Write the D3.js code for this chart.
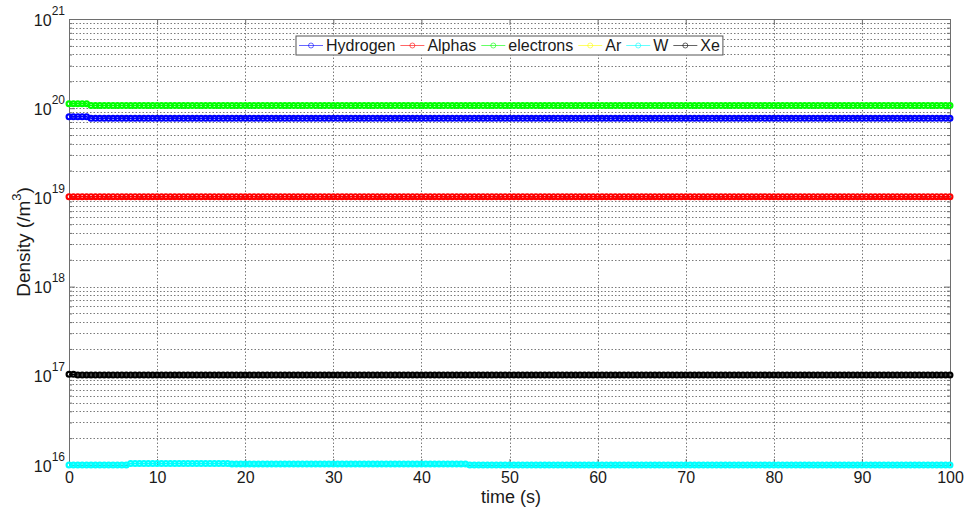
<!DOCTYPE html>
<html><head><meta charset="utf-8">
<script src="https://cdn.jsdelivr.net/npm/d3@7"></script>
<style>
html,body{margin:0;padding:0;background:#fff;}
svg{display:block;font-family:"Liberation Sans",Arial,sans-serif;}
</style></head>
<body>
<svg id="chart" width="966" height="513"></svg>
<script>
// ---- data ----
const seriesNames = ["Hydrogen","Alphas","electrons","Ar","W","Xe"];
const seriesColors = ["#0000ff","#ff0000","#00ff00","#ffff00","#00ffff","#000000"];
const times = d3.range(0, 100.25, 0.5); // 201 samples, 0..100 s
const xTicks = [0,10,20,30,40,50,60,70,80,90,100];
const yExponents = [16,17,18,19,20,21];

const Hydrogen = [
8.0e19,8.0e19,8.0e19,8.0e19,8.0e19,7.7e19,7.7e19,7.7e19,7.7e19,7.7e19,7.7e19,7.7e19,7.7e19,7.7e19,7.7e19,7.7e19,7.7e19,7.7e19,7.7e19,7.7e19,
7.7e19,7.7e19,7.7e19,7.7e19,7.7e19,7.7e19,7.7e19,7.7e19,7.7e19,7.7e19,7.7e19,7.7e19,7.7e19,7.7e19,7.7e19,7.7e19,7.7e19,7.7e19,7.7e19,7.7e19,
7.7e19,7.7e19,7.7e19,7.7e19,7.7e19,7.7e19,7.7e19,7.7e19,7.7e19,7.7e19,7.7e19,7.7e19,7.7e19,7.7e19,7.7e19,7.7e19,7.7e19,7.7e19,7.7e19,7.7e19,
7.7e19,7.7e19,7.7e19,7.7e19,7.7e19,7.7e19,7.7e19,7.7e19,7.7e19,7.7e19,7.7e19,7.7e19,7.7e19,7.7e19,7.7e19,7.7e19,7.7e19,7.7e19,7.7e19,7.7e19,
7.7e19,7.7e19,7.7e19,7.7e19,7.7e19,7.7e19,7.7e19,7.7e19,7.7e19,7.7e19,7.7e19,7.7e19,7.7e19,7.7e19,7.7e19,7.7e19,7.7e19,7.7e19,7.7e19,7.7e19,
7.7e19,7.7e19,7.7e19,7.7e19,7.7e19,7.7e19,7.7e19,7.7e19,7.7e19,7.7e19,7.7e19,7.7e19,7.7e19,7.7e19,7.7e19,7.7e19,7.7e19,7.7e19,7.7e19,7.7e19,
7.7e19,7.7e19,7.7e19,7.7e19,7.7e19,7.7e19,7.7e19,7.7e19,7.7e19,7.7e19,7.7e19,7.7e19,7.7e19,7.7e19,7.7e19,7.7e19,7.7e19,7.7e19,7.7e19,7.7e19,
7.7e19,7.7e19,7.7e19,7.7e19,7.7e19,7.7e19,7.7e19,7.7e19,7.7e19,7.7e19,7.7e19,7.7e19,7.7e19,7.7e19,7.7e19,7.7e19,7.7e19,7.7e19,7.7e19,7.7e19,
7.7e19,7.7e19,7.7e19,7.7e19,7.7e19,7.7e19,7.7e19,7.7e19,7.7e19,7.7e19,7.7e19,7.7e19,7.7e19,7.7e19,7.7e19,7.7e19,7.7e19,7.7e19,7.7e19,7.7e19,
7.7e19,7.7e19,7.7e19,7.7e19,7.7e19,7.7e19,7.7e19,7.7e19,7.7e19,7.7e19,7.7e19,7.7e19,7.7e19,7.7e19,7.7e19,7.7e19,7.7e19,7.7e19,7.7e19,7.7e19,
7.7e19];

const Alphas = [
1.02e19,1.02e19,1.02e19,1.02e19,1.02e19,1.02e19,1.02e19,1.02e19,1.02e19,1.02e19,1.02e19,1.02e19,1.02e19,1.02e19,1.02e19,1.02e19,1.02e19,1.02e19,1.02e19,1.02e19,
1.02e19,1.02e19,1.02e19,1.02e19,1.02e19,1.02e19,1.02e19,1.02e19,1.02e19,1.02e19,1.02e19,1.02e19,1.02e19,1.02e19,1.02e19,1.02e19,1.02e19,1.02e19,1.02e19,1.02e19,
1.02e19,1.02e19,1.02e19,1.02e19,1.02e19,1.02e19,1.02e19,1.02e19,1.02e19,1.02e19,1.02e19,1.02e19,1.02e19,1.02e19,1.02e19,1.02e19,1.02e19,1.02e19,1.02e19,1.02e19,
1.02e19,1.02e19,1.02e19,1.02e19,1.02e19,1.02e19,1.02e19,1.02e19,1.02e19,1.02e19,1.02e19,1.02e19,1.02e19,1.02e19,1.02e19,1.02e19,1.02e19,1.02e19,1.02e19,1.02e19,
1.02e19,1.02e19,1.02e19,1.02e19,1.02e19,1.02e19,1.02e19,1.02e19,1.02e19,1.02e19,1.02e19,1.02e19,1.02e19,1.02e19,1.02e19,1.02e19,1.02e19,1.02e19,1.02e19,1.02e19,
1.02e19,1.02e19,1.02e19,1.02e19,1.02e19,1.02e19,1.02e19,1.02e19,1.02e19,1.02e19,1.02e19,1.02e19,1.02e19,1.02e19,1.02e19,1.02e19,1.02e19,1.02e19,1.02e19,1.02e19,
1.02e19,1.02e19,1.02e19,1.02e19,1.02e19,1.02e19,1.02e19,1.02e19,1.02e19,1.02e19,1.02e19,1.02e19,1.02e19,1.02e19,1.02e19,1.02e19,1.02e19,1.02e19,1.02e19,1.02e19,
1.02e19,1.02e19,1.02e19,1.02e19,1.02e19,1.02e19,1.02e19,1.02e19,1.02e19,1.02e19,1.02e19,1.02e19,1.02e19,1.02e19,1.02e19,1.02e19,1.02e19,1.02e19,1.02e19,1.02e19,
1.02e19,1.02e19,1.02e19,1.02e19,1.02e19,1.02e19,1.02e19,1.02e19,1.02e19,1.02e19,1.02e19,1.02e19,1.02e19,1.02e19,1.02e19,1.02e19,1.02e19,1.02e19,1.02e19,1.02e19,
1.02e19,1.02e19,1.02e19,1.02e19,1.02e19,1.02e19,1.02e19,1.02e19,1.02e19,1.02e19,1.02e19,1.02e19,1.02e19,1.02e19,1.02e19,1.02e19,1.02e19,1.02e19,1.02e19,1.02e19,
1.02e19];

const electrons = [
1.12e20,1.12e20,1.12e20,1.12e20,1.12e20,1.07e20,1.07e20,1.07e20,1.07e20,1.07e20,1.07e20,1.07e20,1.07e20,1.07e20,1.07e20,1.07e20,1.07e20,1.07e20,1.07e20,1.07e20,
1.07e20,1.07e20,1.07e20,1.07e20,1.07e20,1.07e20,1.07e20,1.07e20,1.07e20,1.07e20,1.07e20,1.07e20,1.07e20,1.07e20,1.07e20,1.07e20,1.07e20,1.07e20,1.07e20,1.07e20,
1.07e20,1.07e20,1.07e20,1.07e20,1.07e20,1.07e20,1.07e20,1.07e20,1.07e20,1.07e20,1.07e20,1.07e20,1.07e20,1.07e20,1.07e20,1.07e20,1.07e20,1.07e20,1.07e20,1.07e20,
1.07e20,1.07e20,1.07e20,1.07e20,1.07e20,1.07e20,1.07e20,1.07e20,1.07e20,1.07e20,1.07e20,1.07e20,1.07e20,1.07e20,1.07e20,1.07e20,1.07e20,1.07e20,1.07e20,1.07e20,
1.07e20,1.07e20,1.07e20,1.07e20,1.07e20,1.07e20,1.07e20,1.07e20,1.07e20,1.07e20,1.07e20,1.07e20,1.07e20,1.07e20,1.07e20,1.07e20,1.07e20,1.07e20,1.07e20,1.07e20,
1.07e20,1.07e20,1.07e20,1.07e20,1.07e20,1.07e20,1.07e20,1.07e20,1.07e20,1.07e20,1.07e20,1.07e20,1.07e20,1.07e20,1.07e20,1.07e20,1.07e20,1.07e20,1.07e20,1.07e20,
1.07e20,1.07e20,1.07e20,1.07e20,1.07e20,1.07e20,1.07e20,1.07e20,1.07e20,1.07e20,1.07e20,1.07e20,1.07e20,1.07e20,1.07e20,1.07e20,1.07e20,1.07e20,1.07e20,1.07e20,
1.07e20,1.07e20,1.07e20,1.07e20,1.07e20,1.07e20,1.07e20,1.07e20,1.07e20,1.07e20,1.07e20,1.07e20,1.07e20,1.07e20,1.07e20,1.07e20,1.07e20,1.07e20,1.07e20,1.07e20,
1.07e20,1.07e20,1.07e20,1.07e20,1.07e20,1.07e20,1.07e20,1.07e20,1.07e20,1.07e20,1.07e20,1.07e20,1.07e20,1.07e20,1.07e20,1.07e20,1.07e20,1.07e20,1.07e20,1.07e20,
1.07e20,1.07e20,1.07e20,1.07e20,1.07e20,1.07e20,1.07e20,1.07e20,1.07e20,1.07e20,1.07e20,1.07e20,1.07e20,1.07e20,1.07e20,1.07e20,1.07e20,1.07e20,1.07e20,1.07e20,
1.07e20];

// Ar is not visible in the picture (below the plotted range); estimated.
const Ar = [
5e15,5e15,5e15,5e15,5e15,5e15,5e15,5e15,5e15,5e15,5e15,5e15,5e15,5e15,5e15,5e15,5e15,5e15,5e15,5e15,
5e15,5e15,5e15,5e15,5e15,5e15,5e15,5e15,5e15,5e15,5e15,5e15,5e15,5e15,5e15,5e15,5e15,5e15,5e15,5e15,
5e15,5e15,5e15,5e15,5e15,5e15,5e15,5e15,5e15,5e15,5e15,5e15,5e15,5e15,5e15,5e15,5e15,5e15,5e15,5e15,
5e15,5e15,5e15,5e15,5e15,5e15,5e15,5e15,5e15,5e15,5e15,5e15,5e15,5e15,5e15,5e15,5e15,5e15,5e15,5e15,
5e15,5e15,5e15,5e15,5e15,5e15,5e15,5e15,5e15,5e15,5e15,5e15,5e15,5e15,5e15,5e15,5e15,5e15,5e15,5e15,
5e15,5e15,5e15,5e15,5e15,5e15,5e15,5e15,5e15,5e15,5e15,5e15,5e15,5e15,5e15,5e15,5e15,5e15,5e15,5e15,
5e15,5e15,5e15,5e15,5e15,5e15,5e15,5e15,5e15,5e15,5e15,5e15,5e15,5e15,5e15,5e15,5e15,5e15,5e15,5e15,
5e15,5e15,5e15,5e15,5e15,5e15,5e15,5e15,5e15,5e15,5e15,5e15,5e15,5e15,5e15,5e15,5e15,5e15,5e15,5e15,
5e15,5e15,5e15,5e15,5e15,5e15,5e15,5e15,5e15,5e15,5e15,5e15,5e15,5e15,5e15,5e15,5e15,5e15,5e15,5e15,
5e15,5e15,5e15,5e15,5e15,5e15,5e15,5e15,5e15,5e15,5e15,5e15,5e15,5e15,5e15,5e15,5e15,5e15,5e15,5e15,
5e15];

const W = [
1.0e16,1.0e16,1.0e16,1.0e16,1.0e16,1.0e16,1.0e16,1.0e16,1.0e16,1.0e16,1.0e16,1.0e16,1.0e16,1.0e16,1.04e16,1.04e16,1.04e16,1.04e16,1.04e16,1.04e16,
1.04e16,1.04e16,1.04e16,1.04e16,1.04e16,1.04e16,1.04e16,1.04e16,1.04e16,1.04e16,1.04e16,1.04e16,1.04e16,1.04e16,1.04e16,1.04e16,1.04e16,1.025e16,1.025e16,1.025e16,
1.025e16,1.025e16,1.025e16,1.025e16,1.025e16,1.025e16,1.025e16,1.025e16,1.025e16,1.025e16,1.025e16,1.025e16,1.025e16,1.025e16,1.025e16,1.025e16,1.025e16,1.025e16,1.025e16,1.025e16,
1.025e16,1.025e16,1.025e16,1.025e16,1.025e16,1.025e16,1.025e16,1.025e16,1.025e16,1.025e16,1.025e16,1.025e16,1.025e16,1.025e16,1.025e16,1.025e16,1.025e16,1.025e16,1.025e16,1.025e16,
1.025e16,1.025e16,1.025e16,1.025e16,1.025e16,1.025e16,1.025e16,1.025e16,1.025e16,1.025e16,1.025e16,1.0e16,1.0e16,1.0e16,1.0e16,1.0e16,1.0e16,1.0e16,1.0e16,1.0e16,
1.0e16,1.0e16,1.0e16,1.0e16,1.0e16,1.0e16,1.0e16,1.0e16,1.0e16,1.0e16,1.0e16,1.0e16,1.0e16,1.0e16,1.0e16,1.0e16,1.0e16,1.0e16,1.0e16,1.0e16,
1.0e16,1.0e16,1.0e16,1.0e16,1.0e16,1.0e16,1.0e16,1.0e16,1.0e16,1.0e16,1.0e16,1.0e16,1.0e16,1.0e16,1.0e16,1.0e16,1.0e16,1.0e16,1.0e16,1.0e16,
1.0e16,1.0e16,1.0e16,1.0e16,1.0e16,1.0e16,1.0e16,1.0e16,1.0e16,1.0e16,1.0e16,1.0e16,1.0e16,1.0e16,1.0e16,1.0e16,1.0e16,1.0e16,1.0e16,1.0e16,
1.0e16,1.0e16,1.0e16,1.0e16,1.0e16,1.0e16,1.0e16,1.0e16,1.0e16,1.0e16,1.0e16,1.0e16,1.0e16,1.0e16,1.0e16,1.0e16,1.0e16,1.0e16,1.0e16,1.0e16,
1.0e16,1.0e16,1.0e16,1.0e16,1.0e16,1.0e16,1.0e16,1.0e16,1.0e16,1.0e16,1.0e16,1.0e16,1.0e16,1.0e16,1.0e16,1.0e16,1.0e16,1.0e16,1.0e16,1.0e16,
1.0e16,1.0e16,1.0e16,1.0e16,1.0e16,1.0e16,1.0e16,1.0e16,1.0e16,1.0e16,1.0e16,1.0e16,1.0e16,1.0e16,1.0e16,1.0e16,1.0e16,1.0e16,1.0e16,1.0e16,
1.0e16];

const Xe = [
1.04e17,1.04e17,1.02e17,1.02e17,1.02e17,1.02e17,1.02e17,1.02e17,1.02e17,1.02e17,1.02e17,1.02e17,1.02e17,1.02e17,1.02e17,1.02e17,1.02e17,1.02e17,1.02e17,1.02e17,
1.02e17,1.02e17,1.02e17,1.02e17,1.02e17,1.02e17,1.02e17,1.02e17,1.02e17,1.02e17,1.02e17,1.02e17,1.02e17,1.02e17,1.02e17,1.02e17,1.02e17,1.02e17,1.02e17,1.02e17,
1.02e17,1.02e17,1.02e17,1.02e17,1.02e17,1.02e17,1.02e17,1.02e17,1.02e17,1.02e17,1.02e17,1.02e17,1.02e17,1.02e17,1.02e17,1.02e17,1.02e17,1.02e17,1.02e17,1.02e17,
1.02e17,1.02e17,1.02e17,1.02e17,1.02e17,1.02e17,1.02e17,1.02e17,1.02e17,1.02e17,1.02e17,1.02e17,1.02e17,1.02e17,1.02e17,1.02e17,1.02e17,1.02e17,1.02e17,1.02e17,
1.02e17,1.02e17,1.02e17,1.02e17,1.02e17,1.02e17,1.02e17,1.02e17,1.02e17,1.02e17,1.02e17,1.02e17,1.02e17,1.02e17,1.02e17,1.02e17,1.02e17,1.02e17,1.02e17,1.02e17,
1.02e17,1.02e17,1.02e17,1.02e17,1.02e17,1.02e17,1.02e17,1.02e17,1.02e17,1.02e17,1.02e17,1.02e17,1.02e17,1.02e17,1.02e17,1.02e17,1.02e17,1.02e17,1.02e17,1.02e17,
1.02e17,1.02e17,1.02e17,1.02e17,1.02e17,1.02e17,1.02e17,1.02e17,1.02e17,1.02e17,1.02e17,1.02e17,1.02e17,1.02e17,1.02e17,1.02e17,1.02e17,1.02e17,1.02e17,1.02e17,
1.02e17,1.02e17,1.02e17,1.02e17,1.02e17,1.02e17,1.02e17,1.02e17,1.02e17,1.02e17,1.02e17,1.02e17,1.02e17,1.02e17,1.02e17,1.02e17,1.02e17,1.02e17,1.02e17,1.02e17,
1.02e17,1.02e17,1.02e17,1.02e17,1.02e17,1.02e17,1.02e17,1.02e17,1.02e17,1.02e17,1.02e17,1.02e17,1.02e17,1.02e17,1.02e17,1.02e17,1.02e17,1.02e17,1.02e17,1.02e17,
1.02e17,1.02e17,1.02e17,1.02e17,1.02e17,1.02e17,1.02e17,1.02e17,1.02e17,1.02e17,1.02e17,1.02e17,1.02e17,1.02e17,1.02e17,1.02e17,1.02e17,1.02e17,1.02e17,1.02e17,
1.02e17];

const seriesValues = [Hydrogen, Alphas, electrons, Ar, W, Xe];

// ---- layout ----
const L = 69, R = 950, T = 19, B = 465;
const svg = d3.select("#chart");
const x = d3.scaleLinear().domain([0, 100]).range([L, R]);
const y = d3.scaleLog().domain([1e16, 1e21]).range([B, T]);

const gridColor = "#7a7a7a";
const axisColor = "#6e6e6e";

// minor + major y grid
const yMinor = [];
yExponents.slice(0, -1).forEach(e => { for (let k = 2; k <= 9; k++) yMinor.push(k * Math.pow(10, e)); });
const yMajor = yExponents.map(e => Math.pow(10, e));

const grid = svg.append("g");
grid.selectAll("line.ymin").data(yMinor.concat(yMajor.slice(1, -1))).join("line")
  .attr("x1", L).attr("x2", R)
  .attr("y1", d => Math.round(y(d)) + 0.5).attr("y2", d => Math.round(y(d)) + 0.5)
  .attr("stroke", gridColor).attr("stroke-width", 1).attr("stroke-dasharray", "1.5,2");
grid.selectAll("line.xg").data(xTicks.slice(1, -1)).join("line")
  .attr("x1", d => Math.round(x(d)) + 0.5).attr("x2", d => Math.round(x(d)) + 0.5)
  .attr("y1", T).attr("y2", B)
  .attr("stroke", gridColor).attr("stroke-width", 1).attr("stroke-dasharray", "1.5,2");

// axes
const fontFam = '"Liberation Sans", Arial, sans-serif';
const xAxis = svg.append("g").attr("transform", `translate(0,${B})`)
  .call(d3.axisBottom(x).tickValues(xTicks).tickSize(-6).tickSizeOuter(0).tickFormat(d3.format("d")));
xAxis.selectAll("text").attr("y", 18).attr("dy", 0).attr("font-size", 16)
  .attr("font-family", fontFam).attr("fill", "#1a1a1a");
const xAxisTop = svg.append("g").attr("transform", `translate(0,${T})`)
  .call(d3.axisTop(x).tickValues(xTicks).tickSize(-6).tickSizeOuter(0).tickFormat(""));

const yAxis = svg.append("g").attr("transform", `translate(${L},0)`)
  .call(d3.axisLeft(y).tickValues(yMajor).tickSize(-6).tickSizeOuter(0).tickFormat(""));
const yAxisMinor = svg.append("g").attr("transform", `translate(${L},0)`)
  .call(d3.axisLeft(y).tickValues(yMinor).tickSize(-3).tickSizeOuter(0).tickFormat(""));
const yAxisR = svg.append("g").attr("transform", `translate(${R},0)`)
  .call(d3.axisRight(y).tickValues(yMajor).tickSize(-6).tickSizeOuter(0).tickFormat(""));
const yAxisRMinor = svg.append("g").attr("transform", `translate(${R},0)`)
  .call(d3.axisRight(y).tickValues(yMinor).tickSize(-3).tickSizeOuter(0).tickFormat(""));
[xAxis, xAxisTop, yAxis, yAxisMinor, yAxisR, yAxisRMinor].forEach(g => {
  g.select(".domain").attr("stroke", axisColor);
  g.selectAll(".tick line").attr("stroke", axisColor);
});

// y tick labels 10^n
yAxis.selectAll(".tick").each(function(d) {
  const g = d3.select(this);
  const t = g.append("text").attr("x", -4).attr("y", 6).attr("text-anchor", "end")
    .attr("font-family", fontFam).attr("fill", "#1a1a1a");
  t.append("tspan").attr("font-size", 16).text("10");
  t.append("tspan").attr("font-size", 12).attr("dy", -11).text(String(Math.round(Math.log10(d))));
});

// series
const line = d3.line().x(d => x(d[0])).y(d => y(d[1]));
seriesValues.forEach((vals, i) => {
  const pts = d3.zip(times, vals).filter(d => d[1] >= 1e16 * 0.999 && d[1] <= 1e21);
  if (!pts.length) return;
  const g = svg.append("g");
  g.append("path").datum(pts).attr("d", line).attr("fill", "none")
    .attr("stroke", seriesColors[i]).attr("stroke-width", 1.5);
  g.selectAll("circle").data(pts).join("circle")
    .attr("cx", d => x(d[0])).attr("cy", d => y(d[1])).attr("r", 2.4)
    .attr("fill", "none").attr("stroke", seriesColors[i]).attr("stroke-width", 2.2);
});

// axis titles
svg.append("text").attr("x", 511).attr("y", 503).attr("text-anchor", "middle")
  .attr("font-size", 18).attr("font-family", fontFam).attr("fill", "#1a1a1a").text("time (s)");
const yt = svg.append("text").attr("transform", `translate(30,${242}) rotate(-90)`)
  .attr("text-anchor", "middle").attr("font-size", 19).attr("font-family", fontFam).attr("fill", "#1a1a1a");
yt.append("tspan").text("Density (/m");
yt.append("tspan").attr("font-size", 13).attr("dy", -9).text("3");
yt.append("tspan").attr("dy", 9).text(")");

// legend
const lg = svg.append("g");
const lgBox = lg.append("rect").attr("x", 296).attr("y", 36).attr("height", 19)
  .attr("fill", "#fff").attr("stroke", "#555").attr("stroke-width", 1);
let cx = 299;
seriesNames.forEach((name, i) => {
  const ly = 45.5;
  lg.append("line").attr("x1", cx).attr("x2", cx + 24).attr("y1", ly).attr("y2", ly)
    .attr("stroke", seriesColors[i]).attr("stroke-width", 1).attr("opacity", 0.6);
  lg.append("circle").attr("cx", cx + 12).attr("cy", ly).attr("r", 2.5)
    .attr("fill", "none").attr("stroke", seriesColors[i]).attr("stroke-width", 1).attr("opacity", 0.6);
  const t = lg.append("text").attr("x", cx + 27).attr("y", ly + 5.5)
    .attr("font-size", 16).attr("font-family", fontFam).attr("fill", "#1a1a1a").text(name);
  cx = cx + 27 + t.node().getComputedTextLength() + 5;
});
lgBox.attr("width", cx - 296 - 2);
</script>
</body></html>
